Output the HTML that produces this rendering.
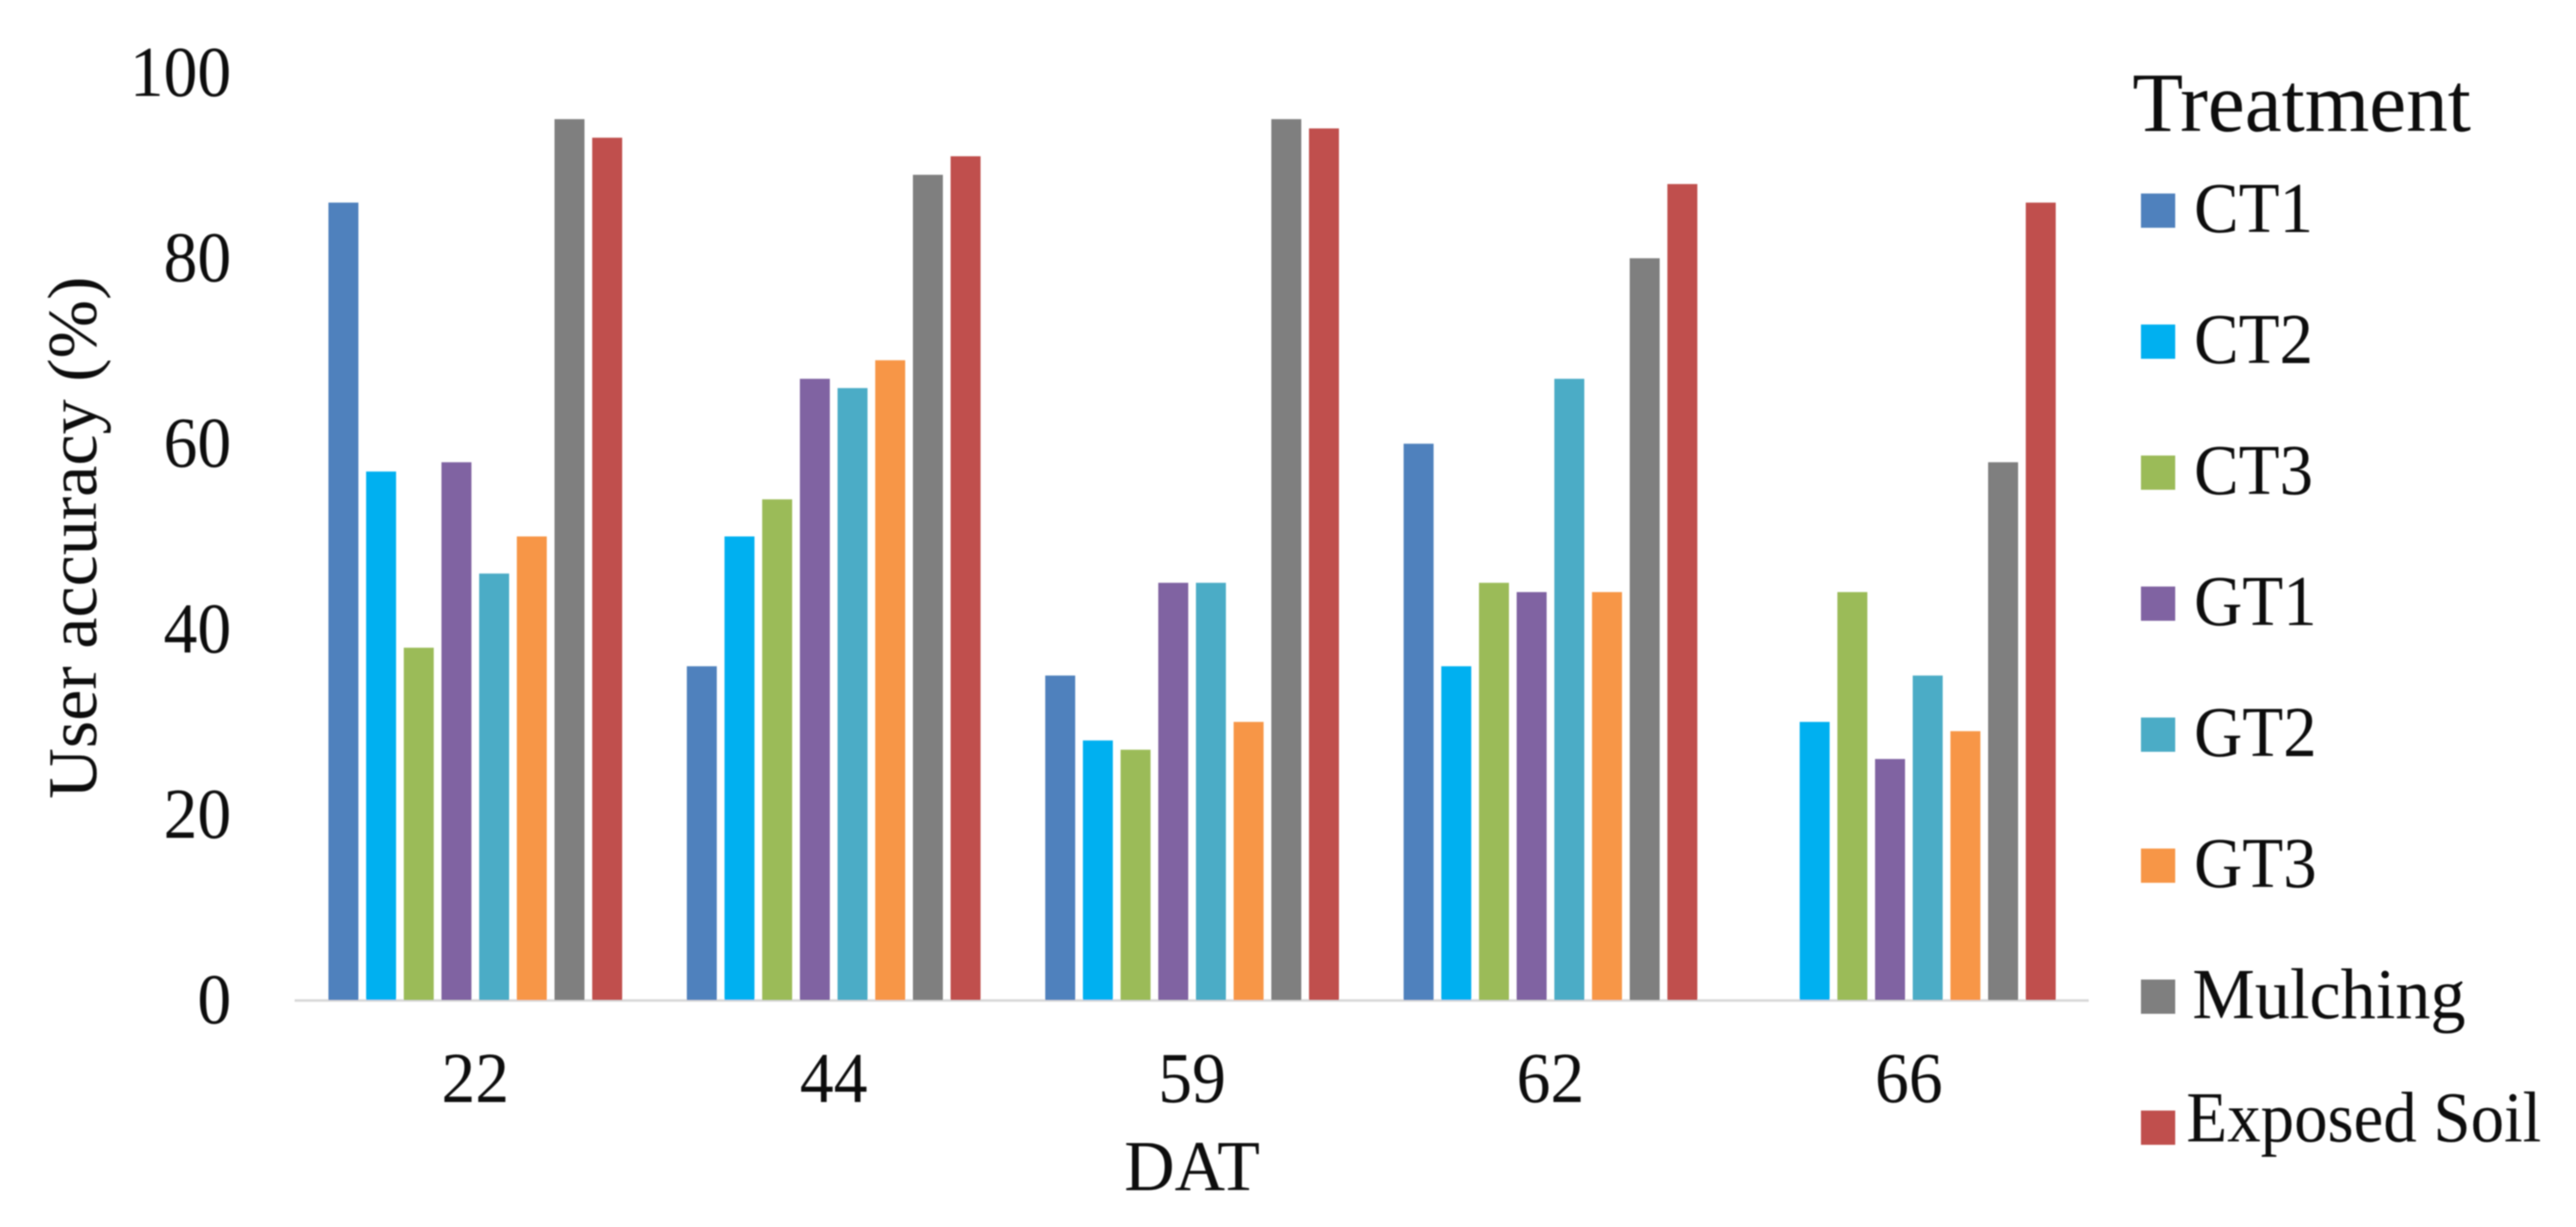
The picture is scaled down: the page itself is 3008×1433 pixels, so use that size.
<!DOCTYPE html>
<html lang="en">
<head>
<meta charset="utf-8">
<title>User accuracy by DAT and treatment</title>
<style>
html,body{margin:0;padding:0;background:#fff;width:3008px;height:1433px;overflow:hidden}
svg{display:block}
text{font-family:"Liberation Serif",serif;fill:#0a0a0a}
</style>
</head>
<body>
<svg id="chart" xmlns="http://www.w3.org/2000/svg" width="3008" height="1433" viewBox="0 0 3008 1433">
<defs><filter id="soft" x="-5%" y="-5%" width="110%" height="110%"><feGaussianBlur stdDeviation="0.7"/></filter></defs>
<rect x="0" y="0" width="3008" height="1433" fill="#fff"/>
<g id="plot" filter="url(#soft)"></g>
</svg>
<script>
const categories = ['22', '44', '59', '62', '66'];
const yTicks = [0, 20, 40, 60, 80, 100];
const seriesNames = ['CT1', 'CT2', 'CT3', 'GT1', 'GT2', 'GT3', 'Mulching', 'Exposed Soil'];
const ct1 = [86, 36, 35, 60, 0];
const ct2 = [57, 50, 28, 36, 30];
const ct3 = [38, 54, 27, 45, 44];
const gt1 = [58, 67, 45, 44, 26];
const gt2 = [46, 66, 45, 67, 35];
const gt3 = [50, 69, 30, 44, 29];
const mulching = [95, 89, 95, 80, 58];
const exposedSoil = [93, 91, 94, 88, 86];
const seriesValues = [ct1, ct2, ct3, gt1, gt2, gt3, mulching, exposedSoil];
const seriesColors = ['#4F81BD', '#00B0F0', '#9BBB59', '#8064A2', '#4BACC6', '#F79646', '#7F7F7F', '#C0504D'];

const NS = 'http://www.w3.org/2000/svg';
const plot = document.getElementById('plot');
const Y0 = 1168, UNIT = 10.83;
const GROUP0 = 555, GROUP_STEP = 418.5, BAR_STEP = 44, BAR_W = 35;
function yScale(v) { return Y0 - v * UNIT; }
function xScale(c, s) { return GROUP0 + c * GROUP_STEP + (s - 3.5) * BAR_STEP; }
function make(tag, attrs) {
  const el = document.createElementNS(NS, tag);
  for (const k in attrs) el.setAttribute(k, attrs[k]);
  plot.appendChild(el);
  return el;
}
function label(str, x, y, size, sx, anchor) {
  const el = make('text', { transform: 'translate(' + x + ' ' + y + ') scale(' + sx + ' 1)', 'font-size': size, 'text-anchor': anchor });
  el.textContent = str;
  return el;
}

const axisLine = make('rect', { x: 344, y: Y0 - 1, width: 2095, height: 3, fill: '#d9d9d9' });



seriesValues.forEach(function (vals, s) {
  vals.forEach(function (v, c) {
    if (v <= 0) return;
    const bar = make('rect', {
      x: xScale(c, s) - BAR_W / 2,
      y: yScale(v),
      width: BAR_W,
      height: Y0 - yScale(v),
      fill: seriesColors[s]
    });
    
    
  });
});

yTicks.forEach(function (t) {
  const tick = label(String(t), 270, yScale(t) + 27, 84, 0.94, 'end');
  
  
});

categories.forEach(function (cat, c) {
  const tick = label(cat, GROUP0 + c * GROUP_STEP, 1287, 84, 0.94, 'middle');
  
  
});

const xTitle = label('DAT', 1392, 1390, 84, 0.97, 'middle');



const yTitle = make('text', { transform: 'translate(112 628) rotate(-90)', 'font-size': 82, 'text-anchor': 'middle' });
yTitle.textContent = 'User accuracy (%)';



const legendTitle = label('Treatment', 2490, 153, 99, 0.98, 'start');



seriesNames.forEach(function (name, s) {
  const cy = 246 + s * 153;
  const swatch = make('rect', { x: 2500, y: cy - 20, width: 40, height: 40, fill: seriesColors[s] });
  
  
  const long = s === 7;
  const text = label(name, s === 7 ? 2553 : s === 6 ? 2560 : 2562, cy + (long ? 16 : 25), 84, s === 6 ? 0.977 : 0.93, 'start');
  
  
});
</script>
</body>
</html>
